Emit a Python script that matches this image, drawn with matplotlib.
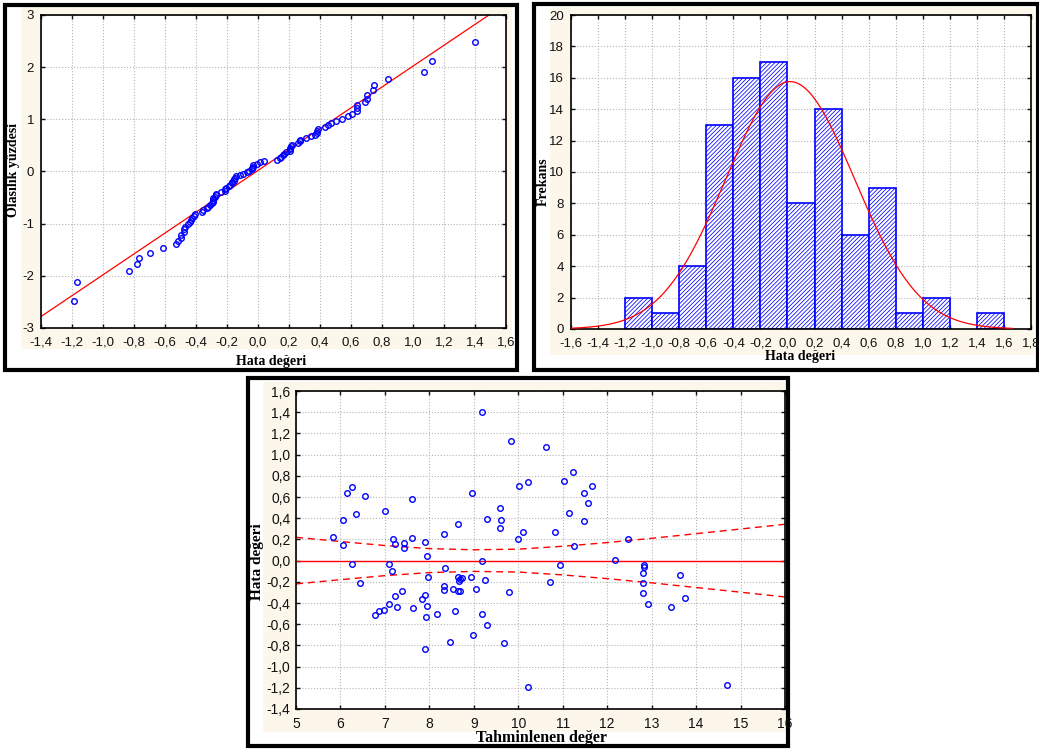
import matplotlib
matplotlib.use("Agg")
import matplotlib.pyplot as plt
from matplotlib.patches import Rectangle
from matplotlib.ticker import FuncFormatter
import numpy as np
from statistics import NormalDist

W, H = 1039, 749

# --- data (predicted value, residual) ---
pred = [5.84, 6.05, 6.05, 6.15, 6.26, 6.35, 6.56, 7.00, 7.19, 7.22,
        7.43, 7.43, 7.60, 7.60, 7.90, 7.95, 8.32, 8.64, 8.96, 9.18,
        9.18, 9.29, 9.59, 9.62, 9.59, 9.83, 10.01, 9.99, 10.11, 10.23,
        10.63, 10.82, 11.03, 11.14, 11.23, 11.26, 11.47, 11.47, 11.57, 11.65,
        12.18, 12.47,
        6.25, 6.45, 6.77, 6.87, 6.98, 7.09, 7.09, 7.17, 7.22, 7.28,
        7.39, 7.63, 7.84, 7.90, 7.95, 7.92, 7.90, 7.96, 8.18, 8.35,
        8.32, 8.32, 8.54, 8.64, 8.67, 8.73, 8.64, 8.69, 8.57, 8.46,
        8.93, 9.04, 8.98, 9.18, 9.26, 9.29, 9.69, 9.80, 10.21, 10.72,
        10.93, 12.83, 12.80, 12.80, 12.80, 12.91, 13.43, 13.64, 13.75, 14.69,
        8.70, 12.82]
resid = [0.22, 0.38, 0.15, 0.64, 0.69, 0.435, 0.605, 0.47, 0.205, 0.16,
         0.165, 0.12, 0.21, 0.58, 0.18, 0.04, 0.255, 0.345, 0.64, 1.40,
         -0.005, 0.39, 0.50, 0.38, 0.31, 1.125, 0.70, 0.205, 0.27, 0.74,
         1.07, 0.27, 0.75, 0.45, 0.84, 0.14, 0.64, 0.37, 0.54, 0.70,
         0.01, 0.205,
         -0.035, -0.21, -0.515, -0.48, -0.47, -0.035, -0.405, -0.10, -0.33, -0.44,
         -0.29, -0.45, -0.36, -0.32, -0.425, -0.53, -0.83, -0.155, -0.50, -0.07,
         -0.24, -0.28, -0.27, -0.15, -0.19, -0.165, -0.29, -0.29, -0.48, -0.77,
         -0.155, -0.27, -0.70, -0.50, -0.18, -0.61, -0.78, -0.30, -1.19, -0.205,
         -0.04, -0.04, -0.115, -0.21, -0.31, -0.41, -0.435, -0.14, -0.355, -1.17,
         -0.17, -0.06]

# histogram of residuals
hist_left = [-1.2, -1.0, -0.8, -0.6, -0.4, -0.2, 0.0, 0.2, 0.4, 0.6, 0.8, 1.0, 1.2, 1.4]
hist_counts = [2, 1, 4, 13, 16, 17, 8, 14, 6, 9, 1, 2, 0, 1]
bin_w = 0.2

# fitted normal (histogram) and reference line (probability plot)
fit_mean, fit_sd = 0.02, 0.476
qq_mean, qq_sd = -0.01, 0.50

# confidence band half-width read at each predicted value
band_x = [5, 6, 7, 8, 9, 10, 11, 12, 13, 14, 15, 16]
band_hw = [0.22, 0.18, 0.142, 0.113, 0.102, 0.108, 0.135, 0.17, 0.21, 0.254, 0.298, 0.343]

BLUE = "#0000ff"
RED = "#ff0000"
CREAM = "#fcf7ea"
TICK_FONT = "Liberation Sans"
LABEL_FONT = "Liberation Serif"

plt.rcParams["hatch.linewidth"] = 0.55
fig = plt.figure(figsize=(W / 100, H / 100), dpi=100)


def fbox(l, t, r, b):
    return [l / W, 1 - b / H, (r - l) / W, (b - t) / H]


def comma(v, pos):
    if abs(v) < 1e-9:
        v = 0.0
    return f"{v:.1f}".replace(".", ",")


def integer(v, pos):
    return f"{int(round(v))}"


def panel(frame, cream):
    fl, ft, fr, fb = frame
    cl, ct, cr, cb = cream
    fig.add_artist(Rectangle((cl / W, 1 - cb / H), (cr - cl) / W, (cb - ct) / H,
                             transform=fig.transFigure, facecolor=CREAM,
                             edgecolor="none", zorder=-2))
    fig.add_artist(Rectangle((fl / W, 1 - fb / H), (fr - fl) / W, (fb - ft) / H,
                             transform=fig.transFigure, fill=False,
                             edgecolor="black", linewidth=3, zorder=-1))


def style(ax, xt, yt, xf, yf, size, ypad=5):
    ax.set_facecolor("white")
    ax.set_xticks(xt)
    ax.set_yticks(yt)
    ax.xaxis.set_major_formatter(FuncFormatter(xf))
    ax.yaxis.set_major_formatter(FuncFormatter(yf))
    ax.tick_params(direction="in", length=3, width=1, top=True, right=True,
                   labelsize=size, colors="#111111")
    ax.tick_params(axis="x", pad=6)
    ax.tick_params(axis="y", pad=ypad)
    for lab in ax.get_xticklabels() + ax.get_yticklabels():
        lab.set_fontfamily(TICK_FONT)
    for s in ax.spines.values():
        s.set_linewidth(1.2)
    ax.grid(True, color="#b5b5b5", linestyle=":", linewidth=0.8)
    ax.set_axisbelow(True)


# --- 1. normal probability plot ---
panel((5, 5, 517, 370), (21, 7, 512, 349))
ax1 = fig.add_axes(fbox(41, 15, 506, 328))
n = len(resid)
sorted_res = np.sort(resid)
z = [NormalDist().inv_cdf((i - 0.375) / (n + 0.25)) for i in range(1, n + 1)]
xl = np.array([-1.4, 1.6])
ax1.plot(xl, (xl - qq_mean) / qq_sd, color=RED, lw=0.9)
ax1.plot(sorted_res, z, linestyle="none", marker="o", ms=4, mfc="none",
         mec=BLUE, mew=1.0)
ax1.set_xlim(-1.4, 1.6)
ax1.set_ylim(-3, 3)
style(ax1, np.arange(-1.4, 1.61, 0.2), range(-3, 4), comma, integer, 9.5)
fig.text(271 / W, 1 - 361 / H, "Hata değeri", ha="center", va="center",
         family=LABEL_FONT, weight="bold", fontsize=10)
fig.text(14 / W, 1 - 170 / H, "Olasılık yüzdesi", ha="center", va="center",
         rotation=90, family=LABEL_FONT, weight="bold", fontsize=10)

# --- 2. histogram with normal fit ---
panel((534, 4, 1038, 370), (550, 7, 1034, 355))
ax2 = fig.add_axes(fbox(571, 15, 1031, 329))
for left, c in zip(hist_left, hist_counts):
    if c > 0:
        ax2.bar(left, c, width=bin_w, align="edge", facecolor="white",
                edgecolor=BLUE, hatch="////////", linewidth=1.2, zorder=2)
xs = np.linspace(-1.6, 1.66, 300)
curve = n * bin_w * np.exp(-0.5 * ((xs - fit_mean) / fit_sd) ** 2) / (fit_sd * np.sqrt(2 * np.pi))
ax2.plot(xs, curve, color=RED, lw=0.9, zorder=3)
ax2.set_xlim(-1.6, 1.8)
ax2.set_ylim(0, 20)
style(ax2, np.arange(-1.6, 1.81, 0.2), range(0, 21, 2), comma, integer, 9.5)
fig.text(800 / W, 1 - 357 / H, "Hata değeri", ha="center", va="center",
         family=LABEL_FONT, weight="bold", fontsize=10)
fig.text(543 / W, 1 - 182 / H, "Frekans", ha="center", va="center",
         rotation=90, family=LABEL_FONT, weight="bold", fontsize=10)

# --- 3. residuals vs predicted ---
panel((248, 378, 788, 746), (263, 382, 786, 732))
ax3 = fig.add_axes(fbox(296, 391, 785, 709))
ax3.axhline(0, color=RED, lw=1.0, zorder=2)
ax3.plot(band_x, band_hw, color=RED, lw=1.0, linestyle=(0, (5, 3.5)), zorder=2)
ax3.plot(band_x, [-v for v in band_hw], color=RED, lw=1.0, linestyle=(0, (5, 3.5)), zorder=2)
ax3.plot(pred, resid, linestyle="none", marker="o", ms=4, mfc="none",
         mec=BLUE, mew=1.0, zorder=3)
ax3.set_xlim(5, 16)
ax3.set_ylim(-1.4, 1.6)
style(ax3, range(5, 17), np.arange(-1.4, 1.61, 0.2), integer, comma, 10, ypad=4)
fig.text(541 / W, 1 - 738 / H, "Tahminlenen değer", ha="center", va="center",
         family=LABEL_FONT, weight="bold", fontsize=11.5)
fig.text(258 / W, 1 - 562 / H, "Hata değeri", ha="center", va="center",
         rotation=90, family=LABEL_FONT, weight="bold", fontsize=11)

fig.savefig("out.png", dpi=100)
